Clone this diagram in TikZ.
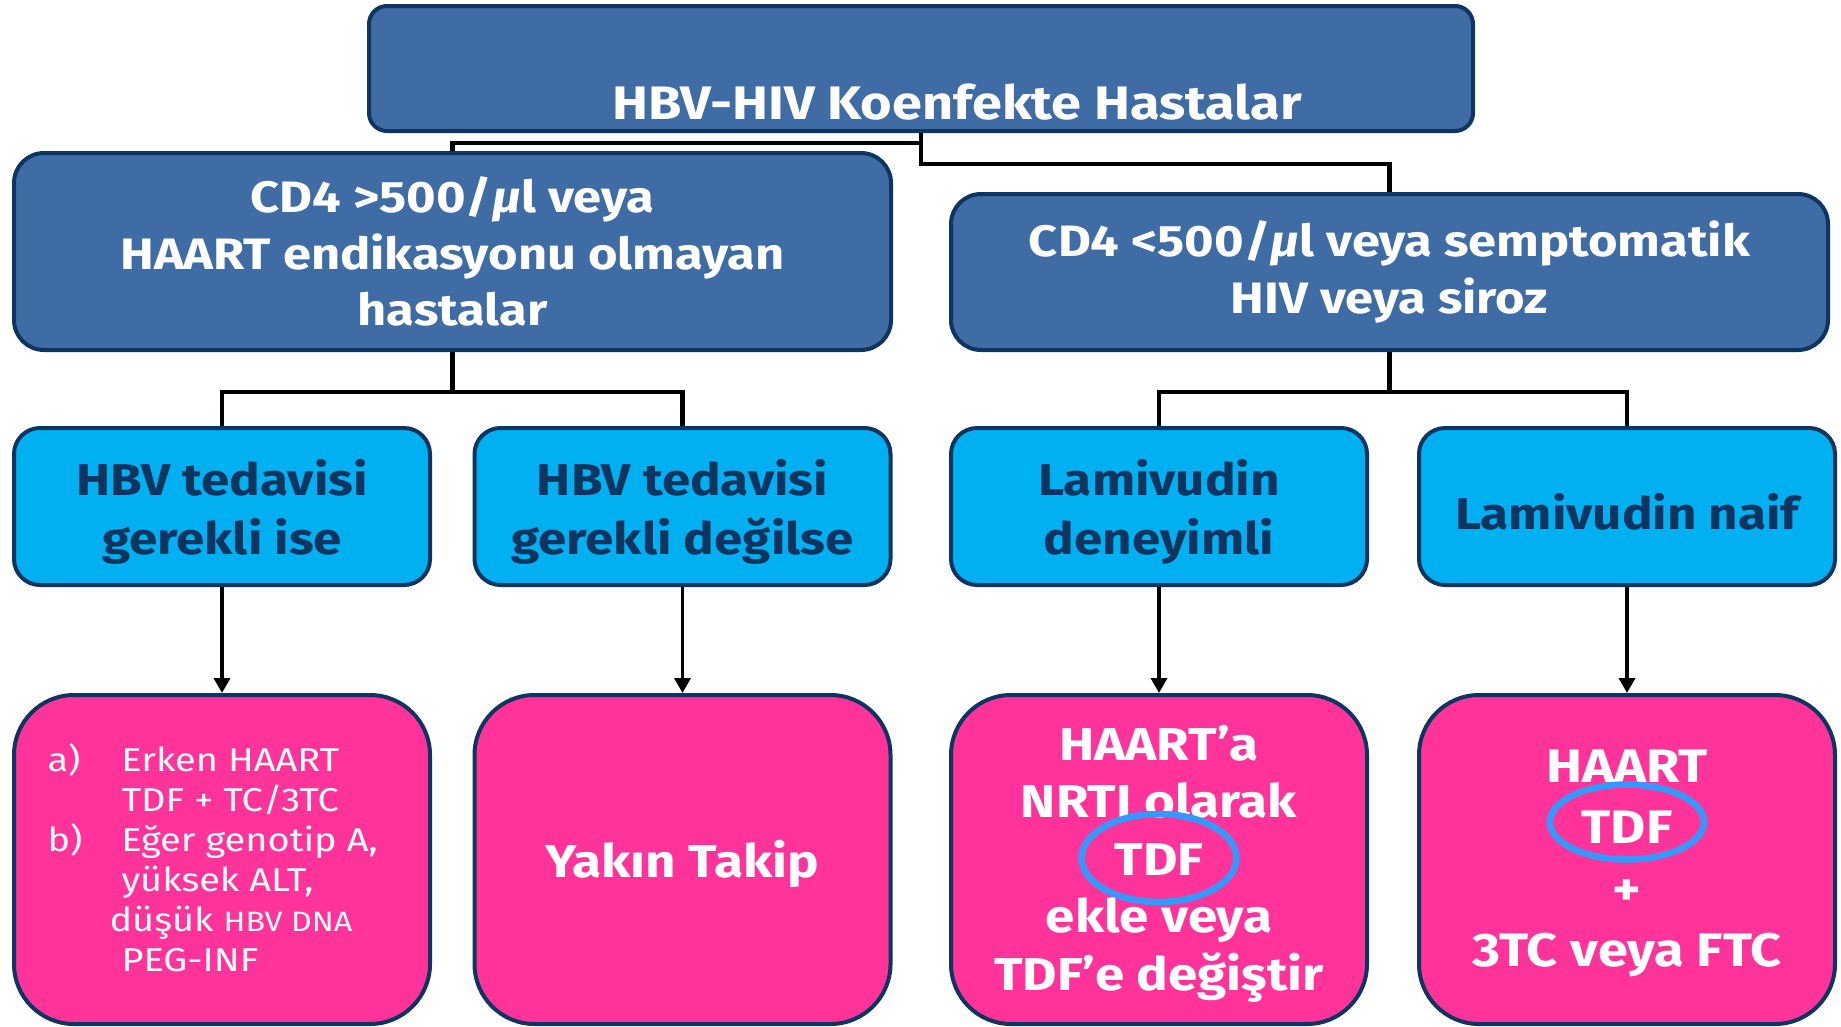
\documentclass[tikz,border=0pt]{standalone}
\usepackage{fontspec}
\setmainfont{Fira Sans}[FakeStretch=1.15]
\usetikzlibrary{shapes.geometric,arrows.meta}
\definecolor{boxblue}{RGB}{63,108,164}
\definecolor{navy}{RGB}{14,52,96}
\definecolor{cyanbox}{RGB}{0,176,240}
\definecolor{pinkbox}{RGB}{255,51,153}
\definecolor{ringblue}{RGB}{51,153,255}
\newcommand\fsz[2]{\fontsize{#1}{#2}\selectfont}
\begin{document}
\begin{tikzpicture}[x=1pt,y=-1pt,
  base/.style={rectangle, draw=navy, line width=4pt, inner sep=0pt, align=center},
  lvlone/.style={base, fill=boxblue, rounded corners=18pt, minimum width=1104pt, minimum height=125pt},
  lvltwo/.style={base, fill=boxblue, rounded corners=30pt, text=white, minimum width=877pt, font=\fsz{44}{56.5}\bfseries},
  lvlthree/.style={base, fill=cyanbox, rounded corners=26pt, minimum width=416pt, minimum height=157pt},
  tthree/.style={align=center, text=navy, font=\fsz{44.5}{59}\bfseries, yshift=-5pt},
  lvlfour/.style={base, fill=pinkbox, rounded corners=60pt, minimum width=416pt, minimum height=329pt},
  tfour/.style={align=center, text=white, font=\fsz{46}{57.5}\bfseries, yshift=-4pt},
  conn/.style={line width=4.5pt, black},
  arr/.style={line width=3.5pt, black, -{Triangle[length=15pt,width=16pt]}},
  ring/.style={ellipse, draw=ringblue, line width=6.5pt, inner sep=0pt}]
\useasboundingbox (0,0) rectangle (1841,1026);

% level 1
\node[lvlone] (top) at (921,68.5) {};
\node[text=white, font=\fsz{47}{56}\bfseries] (toptext) at (957,102) {HBV-HIV Koenfekte Hastalar};

% level 2
\node[lvltwo, minimum height=197pt] (L) at (452.5,251.5) {CD4 >500/\textit{µ}l veya\\HAART endikasyonu olmayan\\hastalar};
\node[lvltwo, minimum height=156pt] (R) at (1389.5,272) {CD4 <500/\textit{µ}l veya semptomatik\\HIV veya siroz};

% level 3
\node[lvlthree, label={[tthree]center:{HBV tedavisi\\gerekli ise}}] (B1) at (222,506.5) {};
\node[lvlthree, label={[tthree]center:{HBV tedavisi\\gerekli değilse}}] (B2) at (682.5,506.5) {};
\node[lvlthree, label={[tthree]center:{Lamivudin\\deneyimli}}] (B3) at (1159,506.5) {};
\node[lvlthree, label={[tthree]center:{Lamivudin naif}}] (B4) at (1627,506.5) {};

% level 4
\node[lvlfour] (P1) at (222,859.5) {};
\node[anchor=west, align=left, text=white, font=\fsz{33}{40}] (P1text) at (44,858)
 {\makebox[74pt][l]{a)}Erken HAART\\
  \hspace*{74pt}TDF + TC/3TC\\
  \makebox[74pt][l]{b)}Eğer genotip A,\\
  \hspace*{74pt}yüksek ALT,\\
  \hspace*{62pt}düşük {\fsz{28}{40}HBV DNA}\\
  \hspace*{74pt}PEG-INF};
\node[lvlfour, label={[tfour]center:{Yakın Takip}}] (P2) at (682.5,859.5) {};
\node[lvlfour, label={[tfour]center:{HAART’a\\NRTI olarak\\TDF\\ekle veya\\TDF’e değiştir}}] (P3) at (1159,859.5) {};
\node[lvlfour, label={[tfour, font=\fsz{47}{61.3}\bfseries]center:{HAART\\TDF\\+\\3TC veya FTC}}] (P4) at (1627,859.5) {};
\node[ring, minimum width=155pt, minimum height=88pt] (ring3) at (1159,858) {};
\node[ring, minimum width=154pt, minimum height=75pt] (ring4) at (1627,822) {};

% connectors
\draw[conn] (top.south) -- ++(0,10) -| (L.north);
\draw[conn] (top.south) -- ++(0,31) -| (R.north);
\draw[conn] (L.south) -- ++(0,40) -| (B1.north);
\draw[conn] (L.south) -- ++(0,40) -| (B2.north);
\draw[conn] (R.south) -- ++(0,40) -| (B3.north);
\draw[conn] (R.south) -- ++(0,40) -| (B4.north);
\draw[arr] (B1.south) -- (P1.north);
\draw[arr] (B2.south) -- (P2.north);
\draw[arr] (B3.south) -- (P3.north);
\draw[arr] (B4.south) -- (P4.north);
\end{tikzpicture}
\end{document}
